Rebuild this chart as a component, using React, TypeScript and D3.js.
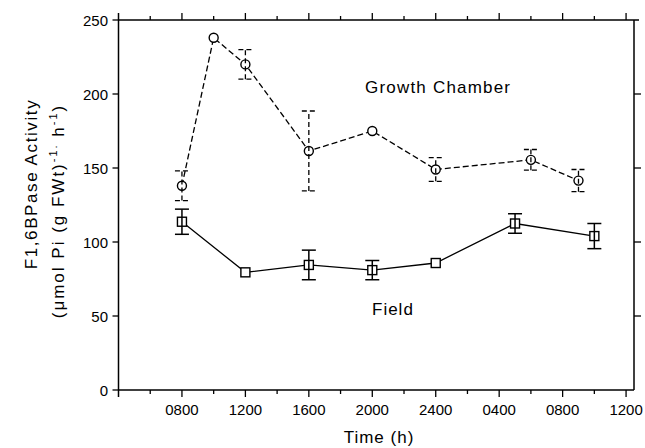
import React from "react";
import * as d3 from "d3";

// Time axis: hours since 0000 of day 1 (0800 = 8, next-day 0400 = 28)
const xTickHours = [8, 12, 16, 20, 24, 28, 32, 36];
const xTickLabels = ["0800", "1200", "1600", "2000", "2400", "0400", "0800", "1200"];
const xMinorHours = [6, 10, 14, 18, 22, 26, 30, 34];
const yTicks = [0, 50, 100, 150, 200, 250];

// Growth Chamber series (circles, dashed)
const gcHours = [8, 10, 12, 16, 20, 24, 30, 33];
const gcMean = [138, 238, 220, 161.5, 175, 149, 155.5, 141.5];
const gcErr = [10, 0, 10, 27, 0, 8, 7, 7.5];

// Field series (squares, solid)
const fieldHours = [8, 12, 16, 20, 24, 29, 34];
const fieldMean = [113.7, 79.5, 84.5, 81, 85.8, 112.5, 104];
const fieldErr = [8.5, 0, 10, 6.5, 0, 6.6, 8.5];

const W = 645;
const H = 448;
const FONT = "'Liberation Sans', Arial, Helvetica, sans-serif";

export default function App() {
  const x = d3.scaleLinear().domain([4, 36.5]).range([118.5, 634]);
  const y = d3.scaleLinear().domain([0, 250]).range([390, 20]);
  const line = d3
    .line<[number, number]>()
    .x((d) => x(d[0]))
    .y((d) => y(d[1]));

  const gcPts: [number, number][] = gcHours.map((h, i) => [h, gcMean[i]]);
  const fPts: [number, number][] = fieldHours.map((h, i) => [h, fieldMean[i]]);

  const x0 = x(4);
  const x1 = x(36.5);
  const y0 = y(0);
  const y1 = y(250);
  const cap = 7;

  return (
    <svg
      width={W}
      height={H}
      style={{ position: "absolute", left: 0, top: 0, background: "#fff" }}
      fontFamily={FONT}
    >
      <rect x={0} y={0} width={W} height={H} fill="#fff" />
      {/* frame */}
      <g stroke="#000" strokeWidth={1.5} fill="none">
        <line x1={x0} x2={x1 + 5} y1={y1} y2={y1} />
        <line x1={x0} x2={x1} y1={y0} y2={y0} />
        <line x1={x0} x2={x0} y1={y1 - 7} y2={y0 + 7} />
        <line x1={x1} x2={x1} y1={y1} y2={y0} />
      </g>
      {/* x ticks bottom & top */}
      <g stroke="#000" strokeWidth={1.3}>
        {xTickHours.map((h) => (
          <g key={"mx" + h}>
            <line x1={x(h)} x2={x(h)} y1={y0} y2={y0 + 7} />
            <line x1={x(h)} x2={x(h)} y1={y1} y2={y1 - 7} />
          </g>
        ))}
        {xMinorHours.map((h) => (
          <g key={"nx" + h}>
            <line x1={x(h)} x2={x(h)} y1={y0} y2={y0 + 4} />
            <line x1={x(h)} x2={x(h)} y1={y1} y2={y1 - 4} />
          </g>
        ))}
        {yTicks.map((v) => (
          <g key={"yt" + v}>
            <line x1={x0 - 6} x2={x0} y1={y(v)} y2={y(v)} />
            {v > 0 && v < 250 && <line x1={x1} x2={x1 + 7} y1={y(v)} y2={y(v)} />}
          </g>
        ))}
      </g>
      {/* tick labels */}
      <g fontSize={15} fill="#000">
        {xTickHours.map((h, i) => (
          <text key={"xl" + h} x={x(h)} y={415} textAnchor="middle">
            {xTickLabels[i]}
          </text>
        ))}
        {yTicks.map((v) => (
          <text key={"yl" + v} x={108} y={y(v) + 5.5} textAnchor="end">
            {v}
          </text>
        ))}
      </g>
      {/* axis titles */}
      <text x={379} y={443} fontSize={17} textAnchor="middle" letterSpacing={1}>
        Time (h)
      </text>
      <text
        transform="translate(37,184) rotate(-90)"
        fontSize={17}
        textAnchor="middle"
        letterSpacing={1.6}
      >
        F1,6BPase Activity
      </text>
      <text
        transform="translate(64,211) rotate(-90)"
        fontSize={17}
        textAnchor="middle"
        letterSpacing={2}
      >
        (μmol Pi (g FWt)
        <tspan fontSize={11} dy={-7}>-1.</tspan>
        <tspan dy={7}> h</tspan>
        <tspan fontSize={11} dy={-7}>-1</tspan>
        <tspan dy={7}>)</tspan>
      </text>

      {/* Growth chamber series */}
      <path d={line(gcPts) || ""} fill="none" stroke="#000" strokeWidth={1.3} strokeDasharray="6,3" />
      {gcPts.map((p, i) => (
        <circle key={"gc" + i} cx={x(p[0])} cy={y(p[1])} r={4.5} fill="#fff" stroke="#000" strokeWidth={1.4} />
      ))}
      <g stroke="#000" strokeWidth={1.3} strokeDasharray="5,3">
        {gcPts.map((p, i) =>
          gcErr[i] > 0 ? (
            <g key={"gce" + i}>
              <line x1={x(p[0])} x2={x(p[0])} y1={y(p[1] - gcErr[i])} y2={y(p[1] + gcErr[i])} />
              <line x1={x(p[0]) - cap} x2={x(p[0]) + cap} y1={y(p[1] + gcErr[i])} y2={y(p[1] + gcErr[i])} />
              <line x1={x(p[0]) - cap} x2={x(p[0]) + cap} y1={y(p[1] - gcErr[i])} y2={y(p[1] - gcErr[i])} />
            </g>
          ) : null
        )}
      </g>

      {/* Field series */}
      <path d={line(fPts) || ""} fill="none" stroke="#000" strokeWidth={1.3} />
      {fPts.map((p, i) => (
        <rect key={"fp" + i} x={x(p[0]) - 4.5} y={y(p[1]) - 4.5} width={9} height={9} fill="#fff" stroke="#000" strokeWidth={1.4} />
      ))}
      <g stroke="#000" strokeWidth={1.5}>
        {fPts.map((p, i) =>
          fieldErr[i] > 0 ? (
            <g key={"fe" + i}>
              <line x1={x(p[0])} x2={x(p[0])} y1={y(p[1] - fieldErr[i])} y2={y(p[1] + fieldErr[i])} />
              <line x1={x(p[0]) - cap} x2={x(p[0]) + cap} y1={y(p[1] + fieldErr[i])} y2={y(p[1] + fieldErr[i])} />
              <line x1={x(p[0]) - cap} x2={x(p[0]) + cap} y1={y(p[1] - fieldErr[i])} y2={y(p[1] - fieldErr[i])} />
            </g>
          ) : null
        )}
      </g>

      {/* series labels */}
      <text x={365} y={93} fontSize={17} letterSpacing={1.2}>
        Growth Chamber
      </text>
      <text x={372} y={315} fontSize={17} letterSpacing={1}>
        Field
      </text>
    </svg>
  );
}
